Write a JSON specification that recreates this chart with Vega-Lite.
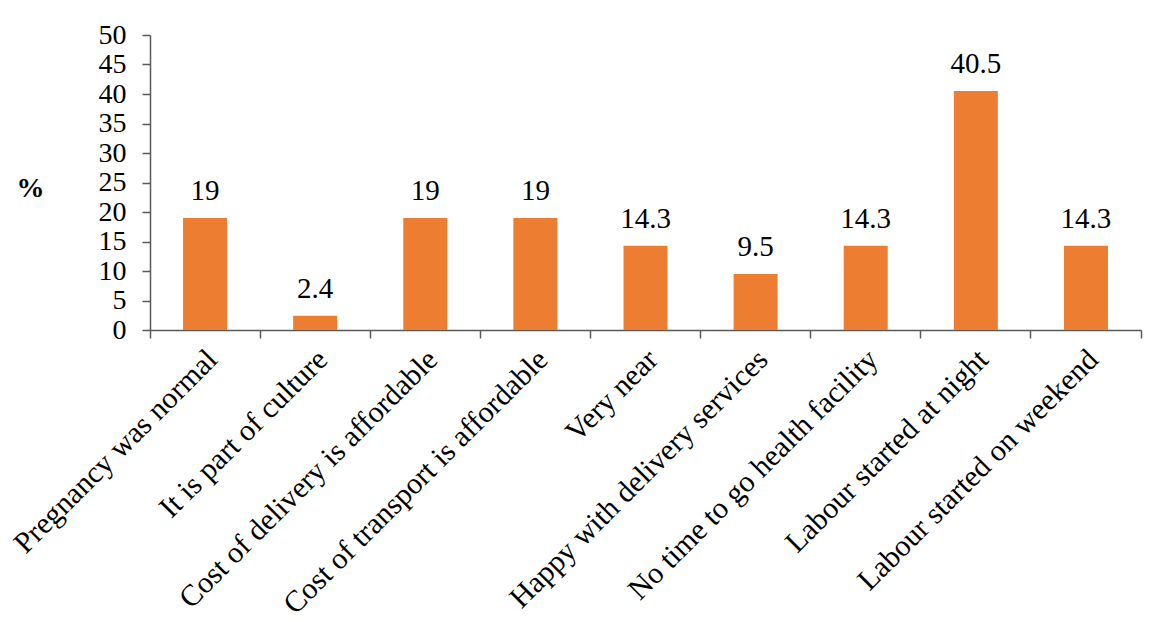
{
  "$schema": "https://vega.github.io/schema/vega-lite/v6.json",
  "autosize": "none",
  "width": 991,
  "height": 295,
  "padding": {"left": 150, "top": 35, "right": 10, "bottom": 292},
  "background": "white",
  "config": {
    "font": "Liberation Serif",
    "view": {"stroke": null},
    "axis": {"domainColor": "#595959", "tickColor": "#595959", "labelColor": "black", "labelFont": "Liberation Serif", "labelFontSize": 30, "grid": false, "tickSize": 8, "domainWidth": 1.5, "tickWidth": 1.5, "labelOverlap": false}
  },
  "data": {"values": [
    {"reason": "Pregnancy was normal", "pct": 19, "lbl": "19"},
    {"reason": "It is part of culture", "pct": 2.4, "lbl": "2.4"},
    {"reason": "Cost of delivery is affordable", "pct": 19, "lbl": "19"},
    {"reason": "Cost of transport is affordable", "pct": 19, "lbl": "19"},
    {"reason": "Very near", "pct": 14.3, "lbl": "14.3"},
    {"reason": "Happy with delivery services", "pct": 9.5, "lbl": "9.5"},
    {"reason": "No time to go health facility", "pct": 14.3, "lbl": "14.3"},
    {"reason": "Labour started at night", "pct": 40.5, "lbl": "40.5"},
    {"reason": "Labour started on weekend", "pct": 14.3, "lbl": "14.3"}
  ]},
  "encoding": {
    "y": {"field": "pct", "type": "quantitative",
      "scale": {"domain": [0, 50], "nice": false},
      "axis": {"values": [0,5,10,15,20,25,30,35,40,45,50], "tickCount": 11, "labelOverlap": false, "labelBound": false, "labelFontSize": 28, "labelPadding": 16, "labelBaseline": "middle", "title": "%", "titleAngle": 0, "titleFontSize": 28, "titleFont": "Liberation Serif", "titleFontWeight": "bold", "titleX": -120, "titleY": 153, "titleAlign": "center", "titleBaseline": "middle", "titleColor": "black"}}
  },
  "resolve": {"axis": {"x": "independent"}},
  "layer": [
    {
      "mark": {"type": "bar", "color": "#ED7D31", "width": 44},
      "encoding": {
        "x": {"field": "reason", "type": "nominal", "sort": null,
          "scale": {"paddingInner": 0, "paddingOuter": 0},
          "axis": {"orient": "bottom", "title": null, "labelAngle": -45, "ticks": false, "labelPadding": 14, "labelOffset": -3, "labelLimit": 500}}
      }
    },
    {
      "mark": {"type": "text", "fontSize": 29, "font": "Liberation Serif", "color": "black", "baseline": "alphabetic", "dy": -18},
      "encoding": {
        "x": {"field": "reason", "type": "nominal", "sort": null,
          "axis": {"orient": "bottom", "title": null, "labels": false, "domain": false, "bandPosition": 1, "tickExtra": true}},
        "text": {"field": "lbl"}
      }
    }
  ]
}
